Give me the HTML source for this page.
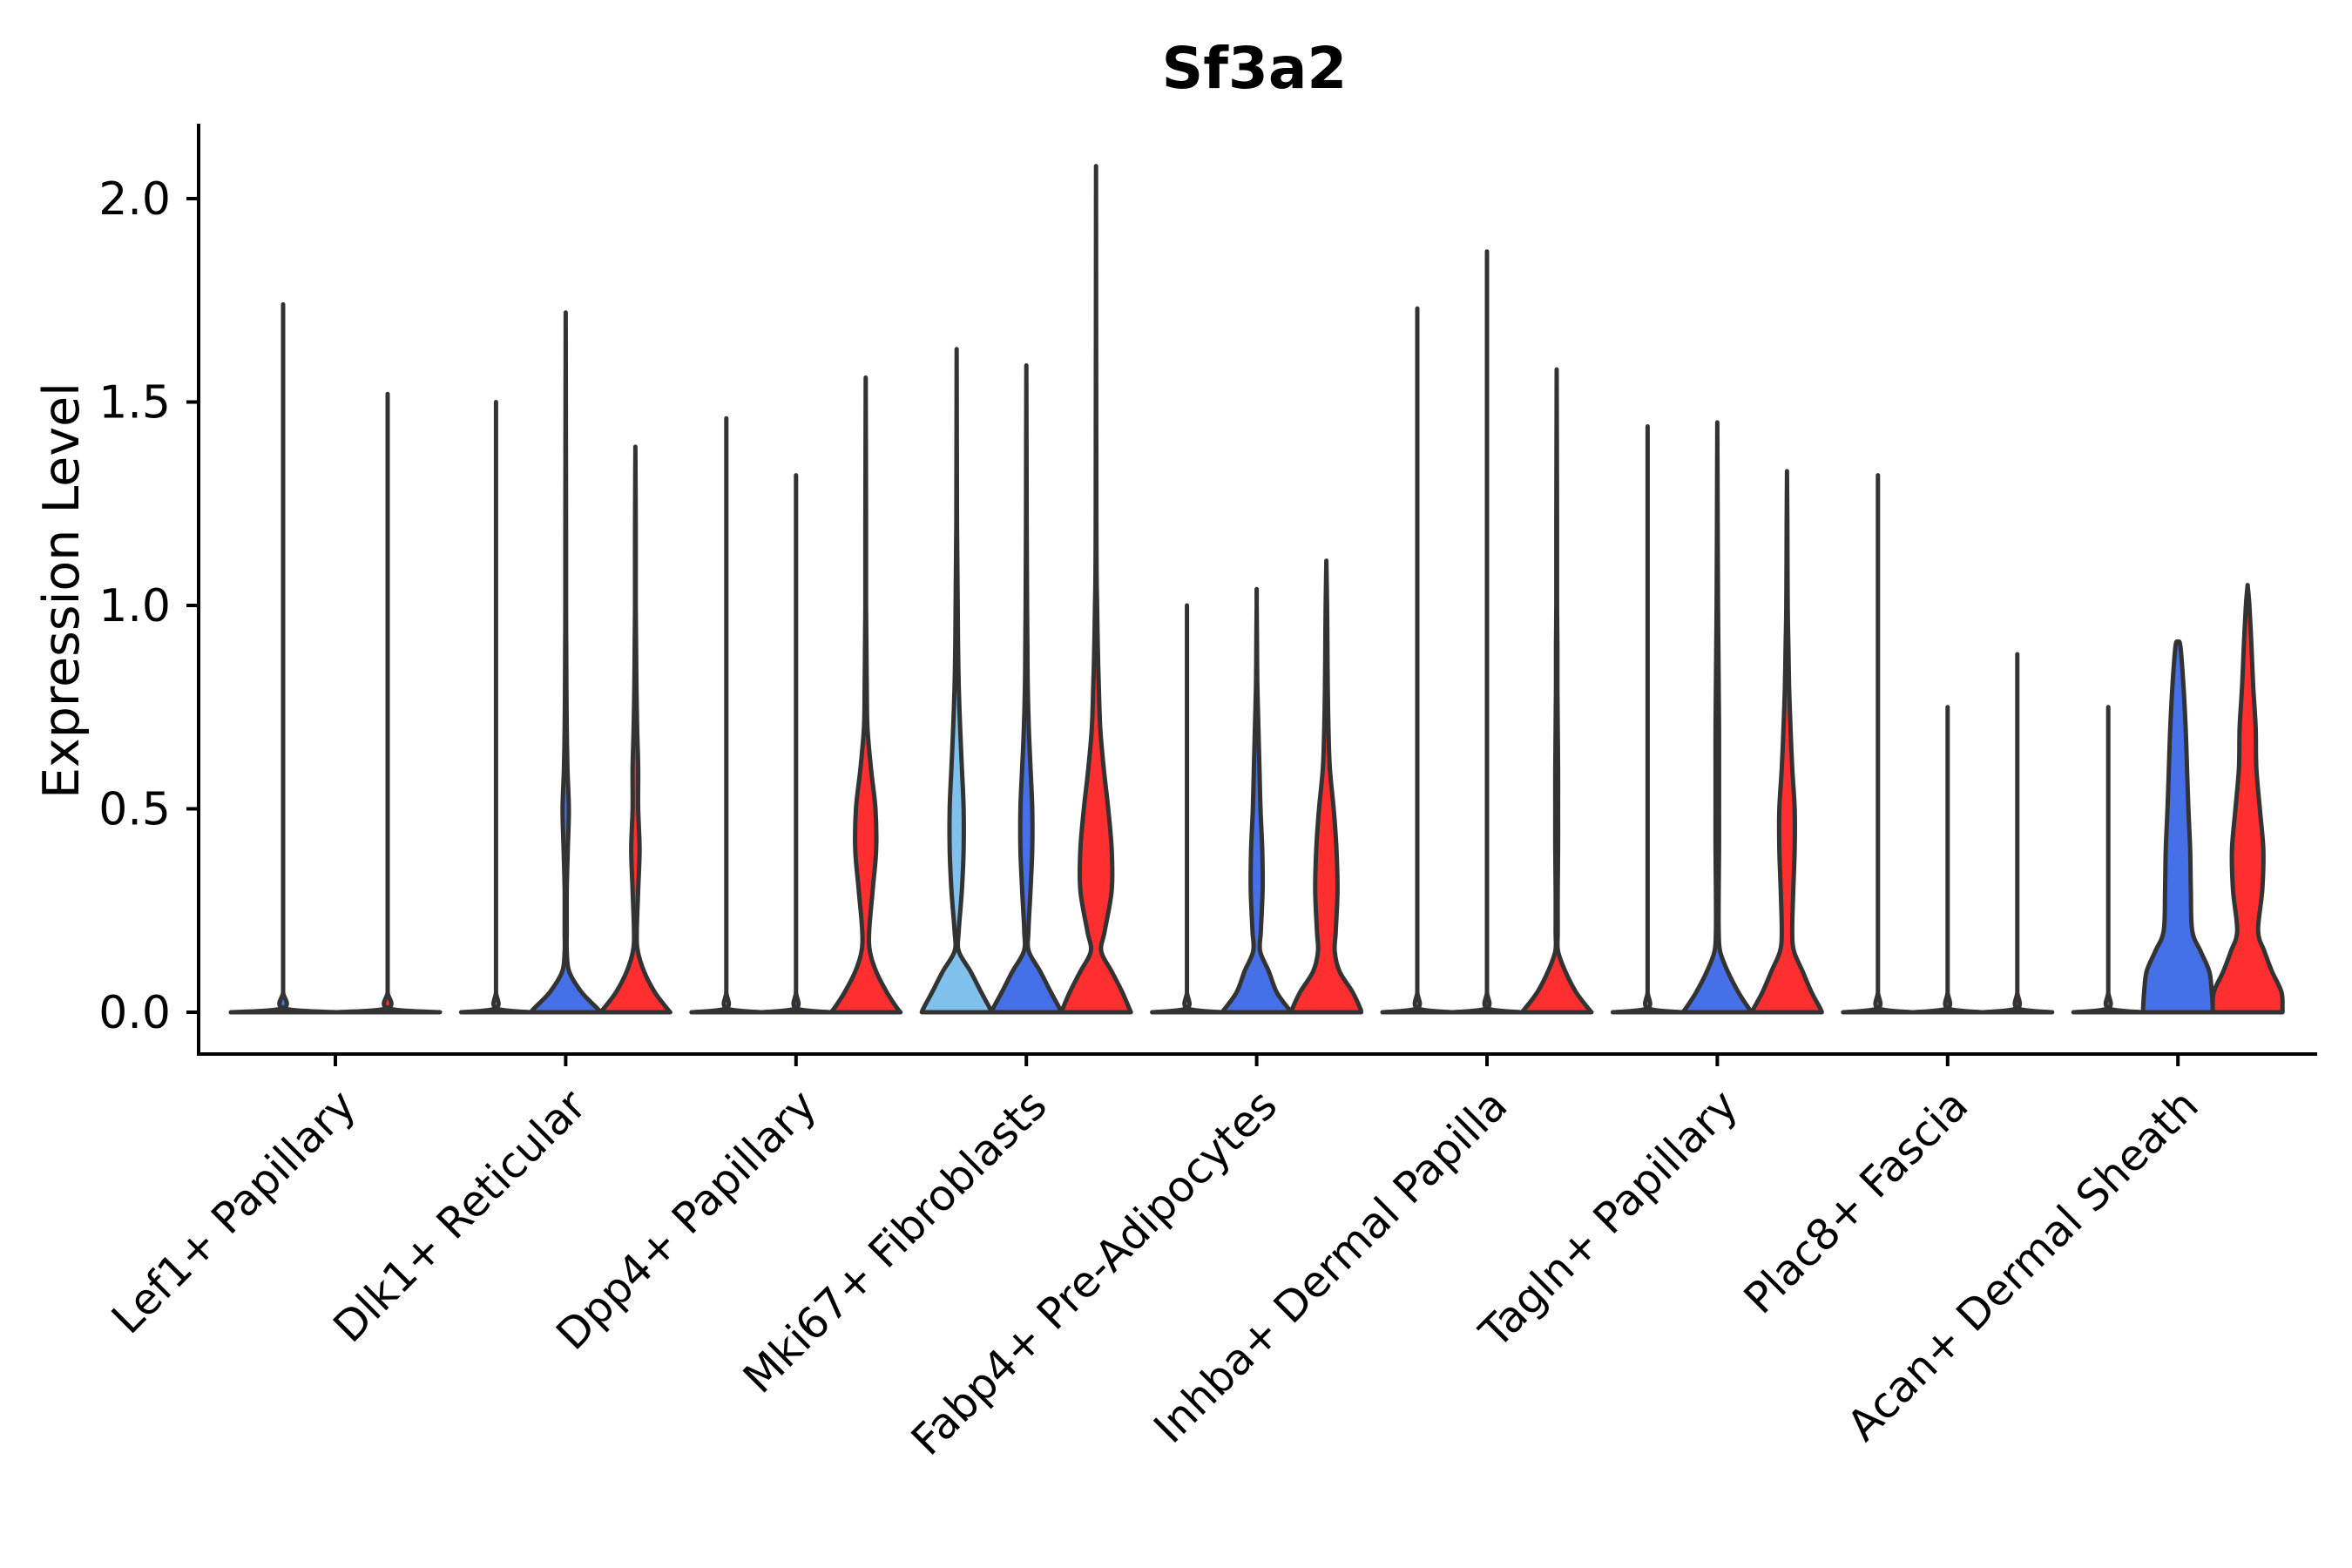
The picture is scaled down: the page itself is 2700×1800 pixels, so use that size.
<!DOCTYPE html>
<html><head><meta charset="utf-8"><style>
html,body{margin:0;padding:0;background:#fff;}
svg{display:block;font-family:"DejaVu Sans","Liberation Sans",sans-serif;}
</style></head><body>
<svg id="chart" width="2700" height="1800" viewBox="0 0 2700 1800" xmlns="http://www.w3.org/2000/svg">
<text x="1440" y="101" font-size="66" font-weight="bold" text-anchor="middle">Sf3a2</text>
<text transform="translate(90,678) rotate(-90)" font-size="57" text-anchor="middle">Expression Level</text>
<g id="plot"></g>
</svg>
<script>
const categories = ["Lef1+ Papillary","Dlk1+ Reticular","Dpp4+ Papillary","Mki67+ Fibroblasts","Fabp4+ Pre-Adipocytes","Inhba+ Dermal Papilla","Tagln+ Papillary","Plac8+ Fascia","Acan+ Dermal Sheath"];
const yTicks = [0, 0.5, 1.0, 1.5, 2.0];
const yTickLabels = ["0.0","0.5","1.0","1.5","2.0"];
const levels = [0,0.01,0.05,0.1,0.15,0.2,0.3,0.4,0.5,0.6,0.7,0.8,0.9,1.0,1.2];
// max values per group (left, middle, right); Lef1 has two groups
const maxLeft   = [1.74,1.50,1.46,1.63,1.00,1.73,1.44,1.32,0.75];
const maxMiddle = [1.52,1.72,1.32,1.59,1.04,1.87,1.45,0.75,0.91];
const maxRight  = [null,1.39,1.56,2.08,1.11,1.58,1.33,0.88,1.05];
const groupColors = ["#80c0ec","#4670e8","#ff2f2f"];
// density half-widths at levels
const FLAT = [1,0.002,0,0,0,0,0,0,0,0,0,0,0,0,0];
const dlk1Mid   = [1,0.9,0.45,0.1,0.03,0.03,0.03,0.06,0.09,0.05,0.03,0.02,0.015,0.01,0.01];
const dlk1Right = [1,0.9,0.55,0.25,0.07,0.04,0.08,0.12,0.08,0.08,0.05,0.03,0.02,0.01,0.01];
const dpp4Right = [1,0.9,0.6,0.3,0.12,0.1,0.2,0.3,0.28,0.15,0.05,0.03,0.02,0.01,0.01];
const mki67Left = [1,0.95,0.7,0.4,0.06,0.06,0.15,0.2,0.2,0.15,0.1,0.06,0.04,0.03,0.01];
const mki67Mid  = [1,0.95,0.7,0.4,0.07,0.06,0.12,0.17,0.17,0.12,0.07,0.04,0.03,0.02,0.01];
const mki67Right= [1,0.95,0.75,0.45,0.15,0.25,0.45,0.45,0.35,0.22,0.12,0.08,0.05,0.03,0.01];
const fabp4Mid  = [1,0.9,0.57,0.35,0.1,0.12,0.17,0.16,0.11,0.08,0.05,0.02,0.01,0,0];
const fabp4Right= [1,0.97,0.75,0.38,0.24,0.27,0.32,0.29,0.21,0.1,0.06,0.04,0.03,0.02,0];
const inhbaRight= [1,0.9,0.55,0.25,0.04,0.03,0.03,0.04,0.04,0.04,0.03,0.02,0.02,0.01,0.01];
const taglnMid  = [1,0.9,0.6,0.3,0.08,0.04,0.04,0.05,0.05,0.05,0.05,0.04,0.03,0.02,0.01];
const taglnRight= [1,0.95,0.7,0.45,0.2,0.15,0.18,0.22,0.22,0.15,0.1,0.06,0.04,0.02,0.01];
const acanMid   = [1,1,0.97,0.9,0.65,0.41,0.37,0.35,0.3,0.26,0.22,0.16,0.07,0,0];
const acanRight = [1,1,0.97,0.7,0.48,0.3,0.42,0.45,0.35,0.25,0.23,0.16,0.11,0.05,0];
const shapeLeft   = [FLAT,FLAT,FLAT,mki67Left,FLAT,FLAT,FLAT,FLAT,FLAT];
const shapeMiddle = [FLAT,dlk1Mid,FLAT,mki67Mid,fabp4Mid,FLAT,taglnMid,FLAT,acanMid];
const shapeRight  = [null,dlk1Right,dpp4Right,mki67Right,fabp4Right,inhbaRight,taglnRight,FLAT,acanRight];

const X0=228, XR=2660, YT=142, YB=1210;
const yZero=1162, yUnit=467;
function yScale(v){return yZero - v*yUnit;}
function xScale(i){return 385 + i*264.4;}
const NS="http://www.w3.org/2000/svg";
const plot=document.getElementById('plot');
function mk(tag,attrs,parent){const e=document.createElementNS(NS,tag);for(const k in attrs)e.setAttribute(k,attrs[k]);(parent||plot).appendChild(e);return e;}

function violinPath(cx, hw, maxV, shape){
  const pts=[];
  for(let k=0;k<levels.length;k++){
    if(levels[k]>=maxV) break;
    pts.push([levels[k], shape[k]]);
  }
  pts.push([maxV,0]);
  const right=pts.map(p=>[cx+Math.max(p[1]*hw,0), yScale(p[0])]);
  const left=pts.slice().reverse().map(p=>[cx-Math.max(p[1]*hw,0), yScale(p[0])]);
  function smooth(P){
    let d="";
    for(let i=0;i<P.length-1;i++){
      const p0=P[Math.max(i-1,0)],p1=P[i],p2=P[i+1],p3=P[Math.min(i+2,P.length-1)];
      const c1=[p1[0]+(p2[0]-p0[0])/6,p1[1]+(p2[1]-p0[1])/6];
      const c2=[p2[0]-(p3[0]-p1[0])/6,p2[1]-(p3[1]-p1[1])/6];
      d+=` C${c1[0].toFixed(1)},${c1[1].toFixed(1)} ${c2[0].toFixed(1)},${c2[1].toFixed(1)} ${p2[0].toFixed(1)},${p2[1].toFixed(1)}`;
    }
    return d;
  }
  return `M${right[0][0].toFixed(1)},${right[0][1].toFixed(1)}`+smooth(right)+` L${left[0][0].toFixed(1)},${left[0][1].toFixed(1)}`+smooth(left)+" Z";
}

// axes
const ax=mk('g',{});


const yAxis=mk('line',{x1:X0,y1:YT,x2:X0,y2:YB+2,stroke:'#000','stroke-width':4},ax);


const xAxis=mk('line',{x1:X0-2,y1:YB,x2:XR,y2:YB,stroke:'#000','stroke-width':4},ax);


yTicks.forEach((v,i)=>{
  const t=mk('line',{x1:X0-14,y1:yScale(v),x2:X0,y2:yScale(v),stroke:'#000','stroke-width':4},ax);
  
  
  const l=mk('text',{x:X0-32,y:yScale(v)+18,'font-size':52,'text-anchor':'end'},ax);
  l.textContent=yTickLabels[i];
  
  
});
categories.forEach((c,i)=>{
  const x=xScale(i);
  const t=mk('line',{x1:x,y1:YB,x2:x,y2:YB+14,stroke:'#000','stroke-width':4},ax);
  
  
  const l=mk('text',{transform:`translate(${x+26},${YB+62}) rotate(-45)`,'font-size':49,'text-anchor':'end'},ax);
  l.textContent=c;
  
  
});

// violins
categories.forEach((c,i)=>{
  const cx=xScale(i);
  const groups=[];
  if(maxRight[i]===null){
    groups.push([cx-60,60,maxLeft[i],shapeLeft[i],groupColors[1]]);
    groups.push([cx+60,60,maxMiddle[i],shapeMiddle[i],groupColors[2]]);
  } else {
    groups.push([cx-80,40,maxLeft[i],shapeLeft[i],groupColors[0]]);
    groups.push([cx,40,maxMiddle[i],shapeMiddle[i],groupColors[1]]);
    groups.push([cx+80,40,maxRight[i],shapeRight[i],groupColors[2]]);
  }
  groups.forEach(g=>{
    const p=mk('path',{d:violinPath(g[0],g[1],g[2],g[3]),fill:g[4],stroke:'#333','stroke-width':5,'stroke-linejoin':'round','stroke-linecap':'round'});
    
    
  });
});
</script>
</body></html>
